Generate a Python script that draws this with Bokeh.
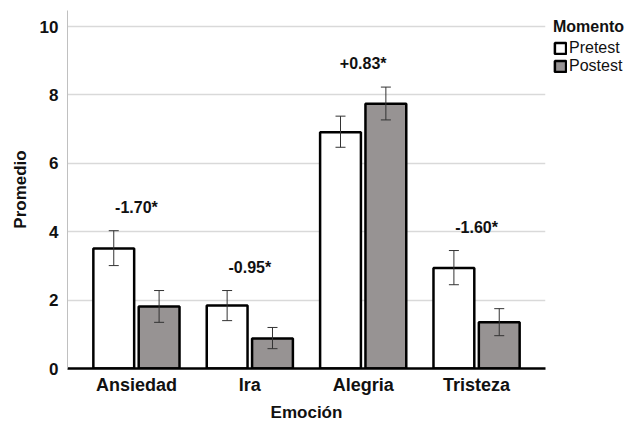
from bokeh.plotting import figure
from bokeh.models import (ColumnDataSource, Range1d, FixedTicker, Whisker, TeeHead,
                          Legend, LegendItem)
from bokeh.core.properties import value
from bokeh.embed import file_html
from bokeh.resources import INLINE

categories = ["Ansiedad", "Ira", "Alegria", "Tristeza"]
pretest_mean = [3.51, 1.84, 6.91, 2.94]
pretest_upper = [4.03, 2.28, 7.38, 3.45]
pretest_lower = [3.01, 1.40, 6.47, 2.45]
postest_mean = [1.81, 0.88, 7.74, 1.35]
postest_upper = [2.28, 1.20, 8.23, 1.75]
postest_lower = [1.35, 0.58, 7.27, 0.96]
diff_labels = ["-1.70*", "-0.95*", "+0.83*", "-1.60*"]
y_ticks = [0, 2, 4, 6, 8, 10]

FONT = "Liberation Sans"
xs = list(range(1, len(categories) + 1))
off = 0.2
bw = 0.36

p = figure(frame_width=478, frame_height=358, output_backend="svg",
           toolbar_location=None, x_range=Range1d(0.392, 4.608),
           y_range=Range1d(0, 10.47), min_border_left=67, min_border_top=10,
           min_border_bottom=50, min_border_right=10)
p.outline_line_color = None
p.background_fill_color = "white"

pre_src = ColumnDataSource(dict(x=[x - off for x in xs], top=pretest_mean,
                                upper=pretest_upper, lower=pretest_lower))
post_src = ColumnDataSource(dict(x=[x + off for x in xs], top=postest_mean,
                                 upper=postest_upper, lower=postest_lower))

r_pre = p.vbar(x="x", top="top", width=bw, source=pre_src, fill_color="white",
               line_color="black", line_width=2.5)
r_post = p.vbar(x="x", top="top", width=bw, source=post_src, fill_color="#979393",
                line_color="black", line_width=2.5)

for src in (pre_src, post_src):
    w = Whisker(base="x", upper="upper", lower="lower", source=src,
                line_color="#333333", line_width=1, level="overlay",
                upper_head=TeeHead(size=10, line_color="#333333", line_width=1),
                lower_head=TeeHead(size=10, line_color="#333333", line_width=1))
    p.add_layout(w)

label_y = [max(a, b) + 0.68 for a, b in zip(pretest_upper, postest_upper)]
p.text(x=xs, y=label_y, text=diff_labels, text_font=value(FONT),
       text_font_size="16px", text_font_style="bold", text_align="center",
       text_baseline="middle", text_color="#111111")

# axes
p.xaxis.ticker = FixedTicker(ticks=xs)
p.xaxis.major_label_overrides = {x: c for x, c in zip(xs, categories)}
p.yaxis.ticker = FixedTicker(ticks=y_ticks)
for ax in (p.xaxis[0], p.yaxis[0]):
    ax.major_tick_line_color = None
    ax.minor_tick_line_color = None
    ax.major_label_text_font = FONT
    ax.major_label_text_font_size = "17px"
    ax.major_label_text_font_style = "bold"
    ax.major_label_text_color = "#111111"
    ax.axis_label_text_font = FONT
    ax.axis_label_text_font_size = "17px"
    ax.axis_label_text_font_style = "bold"
    ax.axis_label_text_color = "#111111"
p.xaxis.major_label_text_font_size = "18px"
p.xaxis.axis_label = "Emoción"
p.yaxis.axis_label = "Promedio"
p.xaxis.axis_line_color = "black"
p.xaxis.axis_line_width = 2.5
p.xaxis.major_label_standoff = 0
p.xaxis.axis_label_standoff = 5
p.yaxis.axis_line_color = "#c0c0c0"
p.yaxis.axis_line_width = 1
p.yaxis.major_label_standoff = 3
p.yaxis.axis_label_standoff = 7

p.xgrid.grid_line_color = None
p.ygrid.grid_line_color = "#d9d9d9"
p.ygrid.grid_line_width = 1.5
p.ygrid.ticker = FixedTicker(ticks=y_ticks)

legend = Legend(items=[LegendItem(label="Pretest", renderers=[r_pre]),
                       LegendItem(label="Postest", renderers=[r_post])],
                title="Momento", location="top_left")
legend.title_text_font = FONT
legend.title_text_font_size = "16px"
legend.title_text_font_style = "bold"
legend.title_text_color = "#111111"
legend.title_standoff = 3
legend.label_text_font = FONT
legend.label_text_font_size = "16px"
legend.label_text_color = "#111111"
legend.glyph_width = 14
legend.glyph_height = 14
legend.label_height = 14
legend.label_standoff = 2
legend.spacing = 0
legend.padding = 0
legend.margin = 8
legend.border_line_color = None
legend.background_fill_alpha = 0
p.add_layout(legend, "right")

open("out.html", "w").write(file_html(p, INLINE))
